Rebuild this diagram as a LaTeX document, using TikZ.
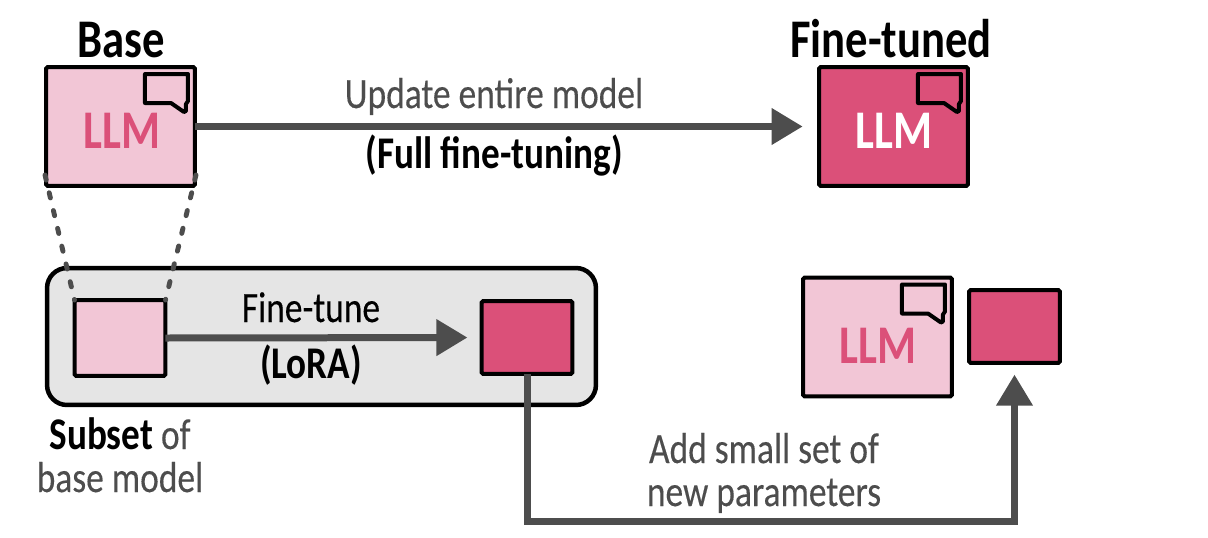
\documentclass[tikz,border=0pt]{standalone}
\usepackage{fontspec}
\setmainfont[FakeStretch=0.82]{Carlito}
\newfontfamily\medfont[FakeStretch=0.82,FakeBold=0.25]{Carlito}
\usetikzlibrary{arrows.meta}

\definecolor{lightpink}{HTML}{F2C6D6}
\definecolor{darkpink}{HTML}{DB5079}
\definecolor{panelgray}{HTML}{E5E5E5}
\definecolor{linegray}{HTML}{4D4D4D}

\tikzset{
  box/.style={draw=black, line width=0.08cm, rounded corners=1pt, outer sep=0pt, inner sep=0pt},
  llmbox/.style={box, minimum width=2.98cm, minimum height=2.38cm},
  smallbox/.style={box, minimum width=1.82cm, minimum height=1.46cm},
  flow/.style={draw=linegray, line width=0.14cm, -{Triangle[length=0.62cm,width=0.7cm]}},
  zoomline/.style={draw=linegray, line width=2.8pt, line cap=round, dash pattern=on 3pt off 7.4pt},
  lab/.style={anchor=base, text=linegray, font=\fontsize{24.6}{24.6}\medfont, inner sep=0pt},
  boldlab/.style={anchor=base, text=black, font=\fontsize{25.8}{25.8}\selectfont\bfseries, inner sep=0pt},
  title/.style={anchor=base, text=black, font=\fontsize{31}{31}\selectfont\bfseries, inner sep=0pt},
  llmtext/.style={anchor=base, font=\fontsize{31}{31}\selectfont\bfseries, inner sep=0pt},
  bubble/.pic={
    \draw[black, line width=0.08cm, line join=round]
      (-50,7) -- (-7,7) -- (-7,34) -- (-9,37) -- (-9,44) -- (-11,45) -- (-24,36) -- (-50,36) -- cycle;
  }
}

\begin{document}
\begin{tikzpicture}[x=0.02cm, y=-0.02cm]
  \useasboundingbox (0,0) rectangle (1208,538);

  % panel behind the subset
  \node[box, line width=0.09cm, fill=panelgray, rounded corners=0.4cm, minimum width=10.98cm, minimum height=2.74cm] (panel) at (321.5,336.5) {};

  % the boxes
  \node[llmbox, fill=lightpink] (basebox) at (120.5,126.5) {};
  \node[llmbox, fill=darkpink] (tunedbox) at (893.5,126.5) {};
  \node[smallbox, fill=lightpink, minimum height=1.52cm] (subsetbox) at (120,338) {};
  \node[smallbox, fill=darkpink] (lorabox) at (527,337.5) {};
  \node[llmbox, fill=lightpink] (mergedbox) at (877.5,337) {};
  \node[smallbox, fill=darkpink] (addedbox) at (1014.5,326.5) {};

  \pic at (basebox.north east) {bubble};
  \pic at (tunedbox.north east) {bubble};
  \pic at (mergedbox.north east) {bubble};

  % texts
  \node[llmtext, text=darkpink] (basellm) at (122,148) {LLM};
  \node[llmtext, text=white] (tunedllm) at (894,148) {LLM};
  \node[llmtext, text=darkpink] (mergedllm) at (878,363) {LLM};
  \node[title] (basetitle) at (121,57) {Base};
  \node[title] (tunedtitle) at (891,57) {Fine-tuned};
  \node[lab] (updatelab) at (494,108) {Update entire model};
  \node[boldlab] (fulllab) at (494,168) {(Full fine-tuning)};
  \node[lab, text=black] (finelab) at (311,322) {Fine-tune};
  \node[boldlab] (loralab) at (311,378) {(LoRA)};
  \node[lab] (subsetlab) at (120,449) {\textcolor{black}{\fontsize{25.8}{25.8}\selectfont\rmfamily\bfseries Subset} of};
  \node[lab] (subsetlabb) at (120,492) {base model};
  \node[lab] (addlab) at (764,463) {Add small set of};
  \node[lab] (addlabb) at (764,506) {new parameters};

  % arrows
  \draw[flow, shorten >=9.3pt] (basebox.east) -- (tunedbox.west);
  \draw[flow, shorten >=8pt] (subsetbox.east) -- (lorabox.west);
  \coordinate (turn) at (addedbox.south |- 0,521);
  \draw[flow, line join=miter, shorten >=6.6pt] (lorabox.south) |- (turn) -- (addedbox.south);

  % dotted lines from base to subset
  \coordinate (leftstart) at (45,175);
  \coordinate (rightstart) at (196,175);
  \draw[zoomline] (leftstart) -- (subsetbox.north west);
  \draw[zoomline] (rightstart) -- (subsetbox.north east);
\end{tikzpicture}
\end{document}
